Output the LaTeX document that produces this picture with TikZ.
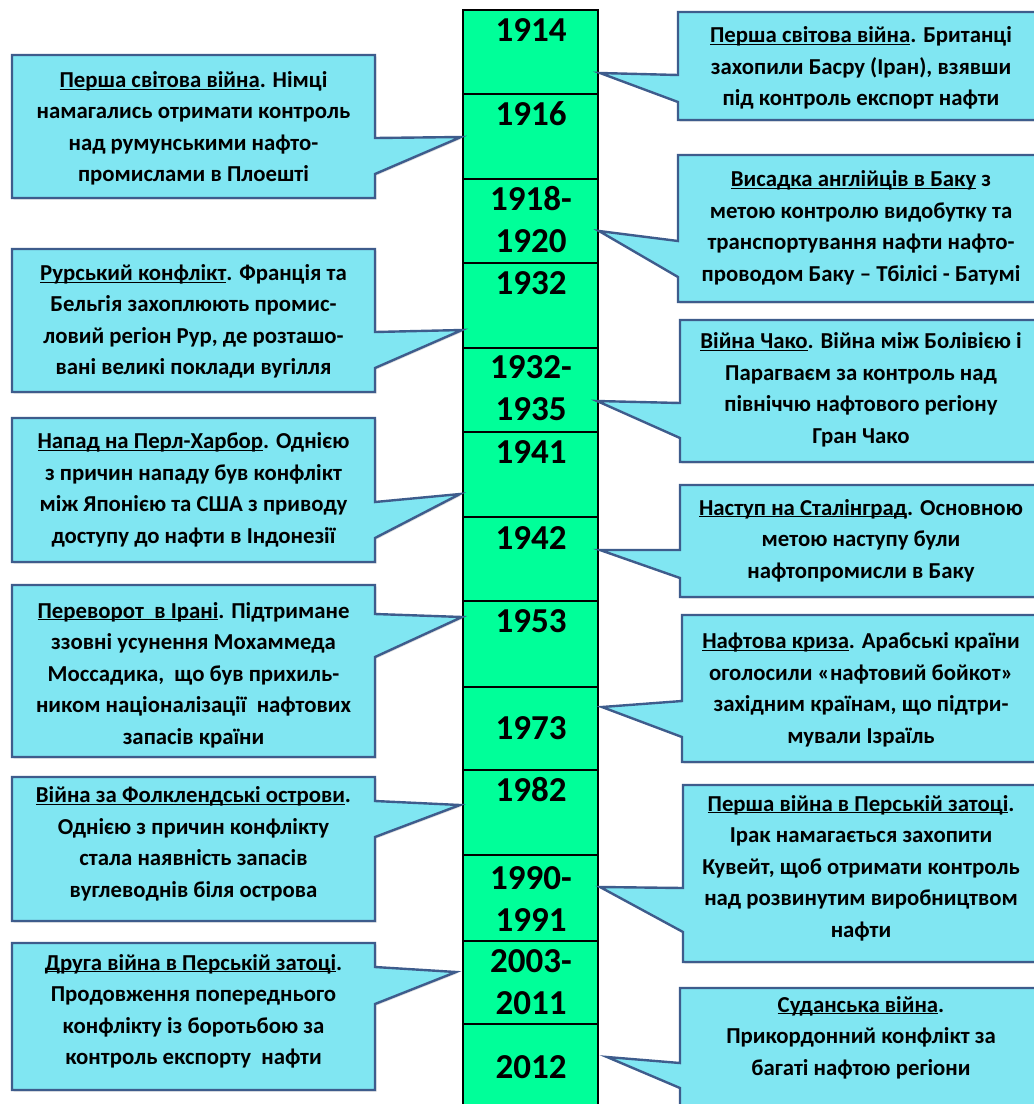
\documentclass[tikz,border=0pt]{standalone}
\usepackage{fontspec}
\setmainfont{Carlito}
\usetikzlibrary{shadows}
\definecolor{calfill}{HTML}{80E6F2}
\definecolor{caledge}{HTML}{3E5C8C}
\definecolor{cellgreen}{HTML}{00FF99}
\newcommand\ulx[1]{\underline{\smash{#1}}}
\tikzset{
  callout/.style={draw=caledge, line width=2.4pt, fill=calfill, line join=miter,
    drop shadow={opacity=0.25, shadow xshift=1.5pt, shadow yshift=-1.5pt}},
  ctext/.style={align=center, inner sep=0pt, text=black,
    font=\fontsize{22.8}{31.5}\selectfont\bfseries},
  cellbox/.style={draw=black, line width=1.3pt, fill=cellgreen, minimum width=135pt, inner sep=0pt},
  year/.style={align=center, inner sep=0pt, font=\fontsize{35}{42.5}\selectfont\bfseries}
}
% left callout: x1,y1,x2,y2, base a, base b, tip coordinate name
\newcommand\calloutL[7]{\draw[callout] (#1,#2) -- (#3,#2) -- (#3,#5) -- (#7) -- (#3,#6) -- (#3,#4) -- (#1,#4) -- cycle;}
\newcommand\calloutR[7]{\draw[callout] (#1,#2) -- (#3,#2) -- (#3,#4) -- (#1,#4) -- (#1,#6) -- (#7) -- (#1,#5) -- cycle;}
\begin{document}
\begin{tikzpicture}[x=1pt,y=-1pt]
\useasboundingbox (0,0) rectangle (1034,1104);
\clip (0,0) rectangle (1034,1104);
\fill[white] (0,0) rectangle (1034,1104);

% timeline cells
\foreach \n/\a/\b in {c1/10/94, c2/94/179, c3/179/263, c4/263/348, c5/348/432, c6/432/517, c7/517/601,
  c8/601/687, c9/687/770, c10/770/855, c11/855/941, c12/941/1024, c13/1024/1109}{
  \node[cellbox, minimum height={(\b-\a)*1pt}] (\n) at (530.5,{(\a+\b)/2}) {};
}
\node[year] (y1) at (531,30) {1914};
\node[year] (y2) at (531,114) {1916};
\node[year] (y3) at (531,219.5) {1918-\\1920};
\node[year] (y4) at (531,283) {1932};
\node[year] (y5) at (531,388) {1932-\\1935};
\node[year] (y6) at (531,452) {1941};
\node[year] (y7) at (531,538) {1942};
\node[year] (y8) at (531,621) {1953};
\node[year] (y9) at (531,728) {1973};
\node[year] (y10) at (531,790) {1982};
\node[year] (y11) at (531,899) {1990-\\1991};
\node[year] (y12) at (531,982) {2003-\\2011};
\node[year] (y13) at (531,1067) {2012};

% tips
\coordinate (tL1) at (461,137);
\coordinate (tL2) at (462,330);
\coordinate (tL3) at (460,494);
\coordinate (tL4) at (462,617);
\coordinate (tL5) at (460,805);
\coordinate (tL6) at (456,972);
\coordinate (tR1) at (600,73);
\coordinate (tR2) at (599,231);
\coordinate (tR3) at (597,401);
\coordinate (tR4) at (600,550);
\coordinate (tR5) at (602,707);
\coordinate (tR6) at (600,887);
\coordinate (tR7) at (607,1057);

% left callouts
\calloutL{12}{55}{375}{198}{138}{174}{tL1}
\calloutL{12}{249}{375}{392}{332}{368}{tL2}
\calloutL{12}{418}{375}{562}{502}{538}{tL3}
\calloutL{12}{585}{375}{757}{614}{657}{tL4}
\calloutL{12}{777}{375}{921}{801}{837}{tL5}
\calloutL{12}{943}{375}{1090}{967}{1004}{tL6}
% right callouts
\calloutR{678}{12}{1042}{120}{75}{102}{tR1}
\calloutR{678}{155}{1042}{302}{241}{277}{tR2}
\calloutR{680}{320}{1042}{462}{403}{438}{tR3}
\calloutR{680}{485}{1042}{597}{550}{578}{tR4}
\calloutR{682}{615}{1042}{762}{701}{737}{tR5}
\calloutR{683}{785}{1042}{962}{888}{932}{tR6}
\calloutR{680}{988}{1042}{1115}{1063}{1088}{tR7}

% texts
\node[ctext] (xL1) at (193.5,128.5) {\ulx{Перша світова війна}. Німці\\намагались отримати контроль\\над румунськими нафто-\\промислами в Плоешті};
\node[ctext] (xL2) at (193.5,321.5) {\ulx{Рурський конфлікт}. Франція та\\Бельгія захоплюють промис-\\ловий регіон Рур, де розташо-\\вані великі поклади вугілля};
\node[ctext] (xL3) at (193.5,490) {\ulx{Напад на Перл-Харбор}. Однією\\з причин нападу був конфлікт\\між Японією та США з приводу\\доступу до нафти в Індонезії};
\node[ctext] (xL4) at (193.5,675) {\ulx{Переворот\ \ в Ірані}. Підтримане\\ззовні усунення Мохаммеда\\Моссадика,\ \ що був прихиль-\\ником націоналізації\ \ нафтових\\запасів країни};
\node[ctext] (xL5) at (193.5,850) {\ulx{Війна за Фолклендські острови}.\\Однією з причин конфлікту\\стала наявність запасів\\вуглеводнів біля острова};
\node[ctext] (xL6) at (193.5,1017.5) {\ulx{Друга війна в Перській затоці}.\\Продовження попереднього\\конфлікту із боротьбою за\\контроль експорту\ \ нафти};

\node[ctext] (xR1) at (861,68) {\ulx{Перша світова війна}. Британці\\захопили Басру (Іран), взявши\\під контроль експорт нафти};
\node[ctext] (xR2) at (861,230) {\ulx{Висадка англійців в Баку} з\\метою контролю видобутку та\\транспортування нафти нафто-\\проводом Баку – Тбілісі - Батумі};
\node[ctext] (xR3) at (861,390) {\ulx{Війна Чако}. Війна між Болівією і\\Парагваєм за контроль над\\північчю нафтового регіону\\Гран Чако};
\node[ctext] (xR4) at (861,541) {\ulx{Наступ на Сталінград}. Основною\\метою наступу були\\нафтопромисли в Баку};
\node[ctext] (xR5) at (861,690) {\ulx{Нафтова криза}. Арабські країни\\оголосили «нафтовий бойкот»\\західним країнам, що підтри-\\мували Ізраїль};
\node[ctext] (xR6) at (861,874.5) {\ulx{Перша війна в Перській затоці}.\\Ірак намагається захопити\\Кувейт, щоб отримати контроль\\над розвинутим виробництвом\\нафти};
\node[ctext] (xR7) at (861,1044) {\ulx{Суданська війна}.\\Прикордонний конфлікт за\\багаті нафтою регіони};
\end{tikzpicture}
\end{document}
